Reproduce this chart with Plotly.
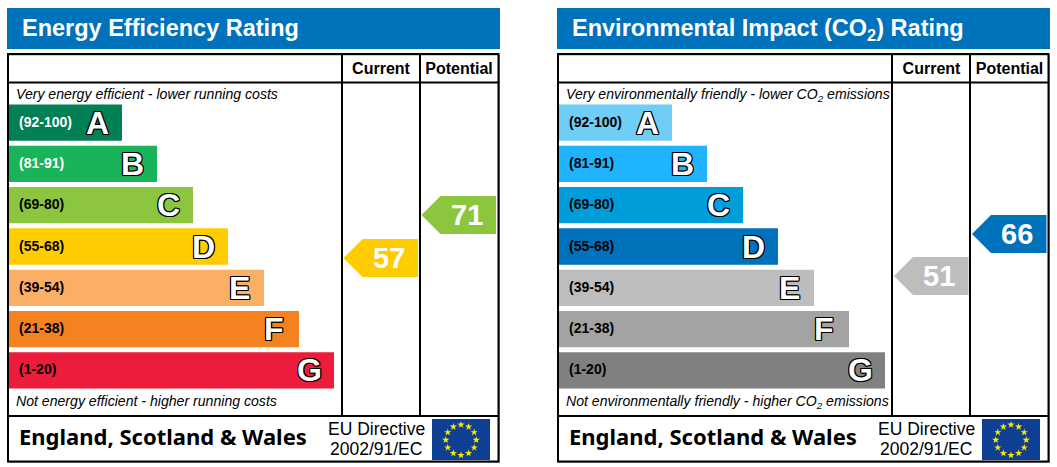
"""
Energy and environmental rating charts, side by side.
"""
import plotly.graph_objects as go

W = 1057
H = 467

bands = ["A", "B", "C", "D", "E", "F", "G"]
band_ranges = ["(92-100)", "(81-91)", "(69-80)", "(55-68)", "(39-54)", "(21-38)", "(1-20)"]
energy_lengths = [113, 148, 184, 219, 255, 290, 325]
env_lengths = [113, 148, 184, 219, 255, 290, 326]
columns = ["Current", "Potential"]
energy_scores = [57, 71]
env_scores = [51, 66]

energy_colors = ["#008054", "#19B459", "#8CC63F", "#FFCC00", "#FBAE65", "#F58220", "#ED1C3A"]
env_colors = ["#6FCDF6", "#20B4FF", "#009DDB", "#0072BC", "#BDBDBD", "#A3A3A3", "#808080"]
energy_range_colors = ["white", "white", "black", "black", "black", "black", "black"]
env_range_colors = ["black"] * 7
energy_pointer_colors = ["#FFCC00", "#8CC63F"]
env_pointer_colors = ["#BDBDBD", "#0072BC"]
header_blue = "#0072BC"
flag_blue = "#0E3F93"
star_yellow = "#FFE800"
star_angles = [0, 30, 60, 90, 120, 150, 180, 210, 240, 270, 300, 330]

OUTLINE = ("-1px -1px 0 #000, 0 -1px 0 #000, 1px -1px 0 #000, -1px 0 0 #000, "
           "1px 0 0 #000, -1px 1px 0 #000, 0 1px 0 #000, 1px 1px 0 #000")
SANS = "Liberation Sans"


def sx(px):
    return px / W


def sy(px):
    return 1 - px / H


fig = go.Figure()
shapes = []
annotations = []


def label(x, y, text, size, color="black", bold=False, italic=False, family=SANS, anchor="left"):
    annotations.append(dict(
        x=sx(x), y=sy(y), xref="paper", yref="paper", text=text, showarrow=False,
        xanchor=anchor, yanchor="middle", borderpad=0,
        font=dict(family=family, size=size, color=color,
                  weight="bold" if bold else "normal",
                  style="italic" if italic else "normal")))


def add_panel(n, off, title, top_text, bottom_text, lengths, colors, range_colors,
              scores, pointer_colors, score_range, text_dy=0, col_nudge=0):
    """Draw one rating chart, off is the pixel shift of the whole panel."""
    xbar, ybar, xcol, ycol = f"x{n}", f"y{n}", f"x{n + 1}", f"y{n + 1}"

    # header bar and frame, the frame has a faint grey edge under and right of it
    shapes.append(dict(type="rect", xref="paper", yref="paper", x0=sx(7 + off), x1=sx(500 + off),
                       y0=sy(8), y1=sy(49), fillcolor=header_blue, line_width=0, layer="below"))
    shapes.append(dict(type="rect", xref="paper", yref="paper", x0=sx(8.5 + off), x1=sx(499.5 + off),
                       y0=sy(55), y1=sy(462.5), line=dict(color="#999999", width=1)))
    shapes.append(dict(type="rect", xref="paper", yref="paper", x0=sx(8 + off), x1=sx(498.5 + off),
                       y0=sy(54), y1=sy(461.5), line=dict(color="black", width=2)))
    for x in (342 + off, 420 + off):
        shapes.append(dict(type="line", xref="paper", yref="paper", x0=sx(x), x1=sx(x),
                           y0=sy(54), y1=sy(416), line=dict(color="black", width=2)))
    for y in (82.5, 416):
        shapes.append(dict(type="line", xref="paper", yref="paper", x0=sx(8 + off), x1=sx(498.5 + off),
                           y0=sy(y), y1=sy(y), line=dict(color="black", width=2)))

    fig.add_trace(go.Bar(x=lengths, y=bands, orientation="h", marker=dict(color=colors, line_width=0),
                         xaxis=xbar, yaxis=ybar, hoverinfo="skip", showlegend=False))

    for band, rng, length, rcol in zip(bands, band_ranges, lengths, range_colors):
        annotations.append(dict(x=0, y=band, xref=xbar, yref=ybar, text=rng, showarrow=False,
                                xanchor="left", xshift=9, yshift=1, borderpad=0,
                                font=dict(family=SANS, size=14, color=rcol, weight="bold")))
        annotations.append(dict(x=length, y=band, xref=xbar, yref=ybar, text=band, showarrow=False,
                                xanchor="center", xshift=-25, borderpad=0,
                                font=dict(family=SANS, size=32, color="white", weight="bold", shadow=OUTLINE)))

    # pointers sit on the score axis of their column
    fig.add_trace(go.Scatter(x=[0, 1], y=scores, mode="none", xaxis=xcol, yaxis=ycol,
                             hoverinfo="skip", showlegend=False))
    for i, (score, color) in enumerate(zip(scores, pointer_colors)):
        shapes.append(dict(type="path", xref=xcol, yref=ycol, xsizemode="pixel", ysizemode="pixel",
                           xanchor=i, yanchor=score, fillcolor=color, line_width=0,
                           path="M -37.5,0 L -18.5,19 L 37,19 L 37,-19 L -18.5,-19 Z"))
        annotations.append(dict(x=i, y=score, xref=xcol, yref=ycol, text=str(score), showarrow=False,
                                xshift=7.5, borderpad=0,
                                font=dict(family=SANS, size=29, color="white", weight="bold")))

    layout_bar_x = dict(domain=[sx(9 + off), sx(342 + off)], range=[0, 333], visible=False, anchor=ybar)
    layout_bar_y = dict(domain=[sy(391), sy(102)], range=[6.5, -0.5], visible=False, anchor=xbar,
                        type="category")
    layout_col_x = dict(domain=[sx(342 + off + col_nudge), sx(498 + off + col_nudge)], range=[-0.5, 1.5],
                        side="top", anchor=ycol,
                        tickvals=[0, 1], ticktext=columns, showgrid=False, zeroline=False, showline=False,
                        ticks="", ticklabelstandoff=5,
                        tickfont=dict(family=SANS, size=16, color="black", weight="bold"))
    layout_col_y = dict(domain=[sy(416), sy(83)], range=score_range, visible=False, anchor=xcol)
    fig.update_layout(**{
        f"xaxis{n}": layout_bar_x, f"yaxis{n}": layout_bar_y,
        f"xaxis{n + 1}": layout_col_x, f"yaxis{n + 1}": layout_col_y,
    })

    # texts
    label(20.5 + off, 28 + text_dy, title, 23.5, color="white", bold=True)
    label(15 + off, 94 + text_dy, top_text, 14.1, italic=True)
    label(15 + off, 401 + text_dy, bottom_text, 14.1, italic=True)
    label(17.5 + off, 436, "England, Scotland &amp; Wales", 22, bold=True, family="Noto Sans")
    label(376 + off, 429, "EU Directive", 17.5, anchor="center")
    label(376 + off, 449, "2002/91/EC", 17.5, anchor="center")

    # flag
    shapes.append(dict(type="rect", xref="paper", yref="paper", x0=sx(432 + off), x1=sx(490 + off),
                       y0=sy(419), y1=sy(460), fillcolor=flag_blue, line_width=0, layer="below"))
    polar = "polar" if n == 1 else "polar2"
    fig.add_trace(go.Scatterpolar(r=[1] * 12, theta=star_angles, mode="markers", subplot=polar,
                                  marker=dict(symbol="star", size=5.5, color=star_yellow, line_width=0),
                                  hoverinfo="skip", showlegend=False))
    fig.update_layout(**{polar: dict(
        domain=dict(x=[sx(445 + off), sx(477 + off)], y=[sy(456), sy(424)]),
        bgcolor="rgba(0,0,0,0)",
        radialaxis=dict(visible=False, range=[0, 1.05]),
        angularaxis=dict(visible=False),
    )})


add_panel(1, 0, "Energy Efficiency Rating",
          "Very energy efficient - lower running costs",
          "Not energy efficient - higher running costs",
          energy_lengths, energy_colors, energy_range_colors,
          energy_scores, energy_pointer_colors, [5.5, 114])
add_panel(3, 550, "Environmental Impact (CO<sub>2</sub>) Rating",
          "Very environmentally friendly - lower CO<sub>2</sub> emissions",
          "Not environmentally friendly - higher CO<sub>2</sub> emissions",
          env_lengths, env_colors, env_range_colors,
          env_scores, env_pointer_colors, [1, 119.9], text_dy=1, col_nudge=0.5)

fig.update_layout(
    width=W, height=H, margin=dict(l=0, r=0, t=0, b=0),
    paper_bgcolor="white", plot_bgcolor="rgba(0,0,0,0)",
    bargap=5 / 41, shapes=shapes, annotations=annotations,
)

fig.write_html("out.html", config=dict(displayModeBar=False),
               post_script="document.body.style.margin='0';document.body.style.overflow='hidden';")
